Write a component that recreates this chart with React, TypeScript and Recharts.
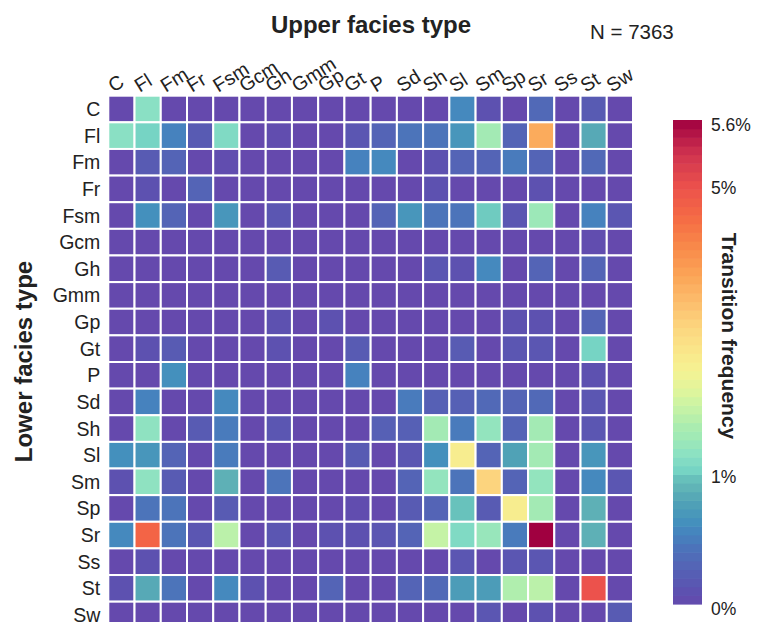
import React from 'react';
import { ScatterChart, Scatter, XAxis, YAxis } from 'recharts';

// facies codes, used for both axes (upper = columns, lower = rows)
const facies = ['C', 'Fl', 'Fm', 'Fr', 'Fsm', 'Gcm', 'Gh', 'Gmm', 'Gp', 'Gt', 'P', 'Sd', 'Sh', 'Sl', 'Sm', 'Sp', 'Sr', 'Ss', 'St', 'Sw'];

// transition frequency (%) from lower facies (row) to upper facies (column)
const fromC = [0, 1.3, 0, 0, 0, 0, 0, 0, 0, 0, 0, 0, 0, 0.6, 0.1, 0, 0.35, 0, 0.2, 0];
const fromFl = [1.3, 1.1, 0.55, 0.2, 1.2, 0, 0.05, 0, 0, 0.15, 0.3, 0.45, 0.45, 0.7, 1.6, 0.3, 3.7, 0, 0.85, 0];
const fromFm = [0, 0.2, 0.3, 0, 0.05, 0, 0, 0, 0, 0.55, 0.6, 0, 0.1, 0.3, 0.3, 0.5, 0.3, 0, 0.35, 0];
const fromFr = [0, 0.1, 0, 0.3, 0, 0, 0, 0, 0, 0, 0, 0, 0.1, 0, 0, 0, 0.1, 0, 0, 0];
const fromFsm = [0, 0.65, 0.3, 0, 0.7, 0, 0.15, 0, 0, 0, 0.3, 0.7, 0.45, 0.45, 1.05, 0.15, 1.5, 0, 0.55, 0.15];
const fromGcm = [0, 0, 0, 0, 0, 0, 0, 0, 0, 0, 0, 0, 0, 0, 0, 0, 0, 0, 0.05, 0];
const fromGh = [0, 0, 0, 0, 0, 0, 0.2, 0, 0, 0, 0, 0, 0.15, 0.1, 0.6, 0, 0.3, 0, 0.3, 0];
const fromGmm = [0, 0, 0, 0, 0, 0, 0, 0, 0, 0, 0, 0, 0, 0, 0, 0, 0, 0, 0, 0];
const fromGp = [0, 0, 0, 0, 0, 0, 0.1, 0, 0.1, 0, 0, 0, 0, 0, 0, 0.1, 0.1, 0, 0.3, 0];
const fromGt = [0, 0.1, 0.2, 0, 0, 0, 0.1, 0, 0, 0.2, 0, 0, 0, 0.2, 0, 0.15, 0.15, 0, 1.1, 0];
const fromP = [0, 0, 0.65, 0, 0, 0, 0, 0, 0, 0.55, 0, 0, 0, 0, 0, 0, 0, 0, 0.1, 0];
const fromSd = [0, 0.55, 0, 0, 0.6, 0, 0, 0, 0, 0, 0, 0.5, 0.25, 0.25, 0.35, 0.3, 0.35, 0, 0.15, 0];
const fromSh = [0, 1.35, 0, 0.2, 0.5, 0, 0.15, 0, 0, 0, 0.25, 0.25, 1.6, 0.5, 1.4, 0.3, 1.6, 0, 0.15, 0];
const fromSl = [0.65, 0.7, 0.3, 0, 0.5, 0, 0, 0, 0, 0.2, 0, 0.15, 0.65, 2.6, 0.3, 0.8, 1.6, 0, 0.7, 0];
const fromSm = [0.1, 1.35, 0.2, 0, 0.9, 0, 0.45, 0, 0, 0, 0, 0.3, 1.4, 0.45, 3.1, 0.3, 1.4, 0, 0.6, 0.15];
const fromSp = [0, 0.45, 0.45, 0, 0.2, 0, 0, 0, 0, 0.05, 0, 0.2, 0.3, 1.0, 0.2, 2.6, 1.6, 0, 0.9, 0];
const fromSr = [0.6, 4.7, 0.45, 0.15, 1.85, 0, 0.15, 0, 0.1, 0.1, 0.15, 0.3, 1.95, 1.2, 1.45, 0.5, 5.6, 0, 0.9, 0];
const fromSs = [0, 0.1, 0, 0, 0, 0, 0, 0, 0, 0, 0, 0, 0, 0.15, 0, 0.15, 0.15, 0, 0, 0];
const fromSt = [0.1, 0.85, 0.45, 0, 0.6, 0.1, 0, 0, 0.3, 0, 0, 0.3, 0.35, 0.75, 0.75, 1.75, 1.85, 0, 5.0, 0];
const fromSw = [0, 0, 0, 0, 0, 0, 0, 0, 0, 0, 0, 0, 0, 0, 0.15, 0, 0.1, 0, 0, 0.2];

const matrix = [fromC, fromFl, fromFm, fromFr, fromFsm, fromGcm, fromGh, fromGmm, fromGp, fromGt,
  fromP, fromSd, fromSh, fromSl, fromSm, fromSp, fromSr, fromSs, fromSt, fromSw];

// colorbar ticks
const cbarTicks = [0, 1, 5, 5.6];
const cbarLabels = ['0%', '1%', '5%', '5.6%'];
// where the ticks sit along the colorbar (non-linear norm)
const cbarFractions = [0, 0.262, 0.86, 1];

// value (%) -> colour stops, spectral-ish
const colorStops: [number, string][] = [
  [0, '#6549ad'], [0.1, '#5d51b0'], [0.2, '#585bb3'], [0.3, '#5464b6'], [0.45, '#4c74ba'],
  [0.55, '#4682be'], [0.65, '#4490bd'], [0.8, '#50a2b6'], [0.9, '#5eb0b6'], [1.0, '#68c2bc'],
  [1.1, '#76d4c4'], [1.3, '#8ae0c4'], [1.5, '#9ce8b8'], [1.7, '#aaecb0'], [1.9, '#c0f2a8'],
  [2.2, '#e0f59c'], [2.5, '#f6f292'], [2.8, '#fae488'], [3.1, '#fcd47e'], [3.5, '#fcb868'],
  [3.8, '#fba456'], [4.2, '#f8884a'], [4.6, '#f56a44'], [5.0, '#ec524c'], [5.3, '#d03450'],
  [5.6, '#a00040'],
];

const hexToRgb = (h: string) => [1, 3, 5].map((i) => parseInt(h.slice(i, i + 2), 16));

const colorOf = (v: number) => {
  if (v <= colorStops[0][0]) return colorStops[0][1];
  for (let i = 1; i < colorStops.length; i++) {
    const [v1, c1] = colorStops[i];
    if (v <= v1) {
      const [v0, c0] = colorStops[i - 1];
      const t = (v - v0) / (v1 - v0);
      const a = hexToRgb(c0), b = hexToRgb(c1);
      const m = a.map((x, k) => Math.round(x + (b[k] - x) * t));
      return `rgb(${m[0]},${m[1]},${m[2]})`;
    }
  }
  return colorStops[colorStops.length - 1][1];
};

// fraction along colorbar -> value
const fracToValue = (f: number) => {
  for (let i = 1; i < cbarFractions.length; i++) {
    if (f <= cbarFractions[i]) {
      const t = (f - cbarFractions[i - 1]) / (cbarFractions[i] - cbarFractions[i - 1]);
      return cbarTicks[i - 1] + t * (cbarTicks[i] - cbarTicks[i - 1]);
    }
  }
  return cbarTicks[cbarTicks.length - 1];
};

const W = 759;
const H = 630;
const PLOT = { left: 108.3, top: 95.7, right: 633, bottom: 628.3 };
const CELL_W = (PLOT.right - PLOT.left) / facies.length;
const CELL_H = (PLOT.bottom - PLOT.top) / facies.length;
const AXIS_PAD = 10;

const FONT = '"Liberation Sans", Arial, Helvetica, sans-serif';
const TEXT = '#222';

const CBAR = { x: 673, top: 120, bottom: 604, width: 29 };

const cells = matrix.flatMap((row, i) => row.map((v, j) => ({ x: j + 0.5, y: i + 0.5, v })));
const centers = facies.map((_, i) => i + 0.5);

const XTick = (props: any) => {
  const { x, payload } = props;
  const label = facies[Math.round(payload.value - 0.5)];
  const tx = x - 8;
  const ty = PLOT.top - 3;
  return (
    <text x={tx} y={ty} transform={`rotate(-32 ${tx} ${ty})`} fontSize={19.5} fill={TEXT} fontFamily={FONT}>
      {label}
    </text>
  );
};

const YTick = (props: any) => {
  const { y, payload } = props;
  const label = facies[Math.round(payload.value - 0.5)];
  return (
    <text x={PLOT.left - 8} y={y} dy="0.36em" textAnchor="end" fontSize={19.5} fill={TEXT} fontFamily={FONT}>
      {label}
    </text>
  );
};

const renderCell = (props: any) => {
  const { cx, cy, payload } = props;
  return (
    <rect
      x={cx - CELL_W / 2}
      y={cy - CELL_H / 2}
      width={CELL_W}
      height={CELL_H}
      fill={colorOf(payload.v)}
      stroke="#fff"
      strokeWidth={2}
    />
  );
};

const BANDS = 56;

export default function App() {
  const barH = CBAR.bottom - CBAR.top;
  const bands = Array.from({ length: BANDS }, (_, k) => {
    const f = (k + 0.5) / BANDS;
    return { k, color: colorOf(fracToValue(f)) };
  });

  return (
    <div style={{ position: 'absolute', left: 0, top: 0, width: W, height: 622, overflow: 'hidden', background: '#fff' }}>
      <ScatterChart
        width={W}
        height={H}
        margin={{ top: PLOT.top - AXIS_PAD, left: PLOT.left - AXIS_PAD, right: W - PLOT.right, bottom: H - PLOT.bottom }}
      >
        <XAxis
          type="number"
          dataKey="x"
          orientation="top"
          height={AXIS_PAD}
          domain={[0, facies.length]}
          ticks={centers}
          interval={0}
          axisLine={false}
          tickLine={false}
          tick={(p: any) => <XTick {...p} />}
        />
        <YAxis
          type="number"
          dataKey="y"
          width={AXIS_PAD}
          domain={[0, facies.length]}
          reversed
          ticks={centers}
          interval={0}
          axisLine={false}
          tickLine={false}
          tick={(p: any) => <YTick {...p} />}
        />
        <Scatter data={cells} shape={renderCell} isAnimationActive={false} />
      </ScatterChart>

      <svg width={W} height={622} style={{ position: 'absolute', left: 0, top: 0, pointerEvents: 'none' }}>
        <text x={371} y={33} textAnchor="middle" fontSize={24} fontWeight="bold" fill={TEXT} fontFamily={FONT}>
          Upper facies type
        </text>
        <text x={590} y={39} fontSize={20.5} fill={TEXT} fontFamily={FONT}>N = 7363</text>
        <text
          transform="translate(31.5 361.5) rotate(-90)"
          textAnchor="middle"
          fontSize={24}
          fontWeight="bold"
          fill={TEXT}
          fontFamily={FONT}
        >
          Lower facies type
        </text>

        {bands.map((b) => (
          <rect
            key={b.k}
            x={CBAR.x}
            y={CBAR.bottom - ((b.k + 1) / BANDS) * barH}
            width={CBAR.width}
            height={barH / BANDS + 0.6}
            fill={b.color}
          />
        ))}
        {cbarTicks.map((t, i) => (
          <text
            key={t}
            x={CBAR.x + CBAR.width + 9}
            y={CBAR.bottom - cbarFractions[i] * barH + (i === 0 ? 5 : i === cbarTicks.length - 1 ? 5 : 0)}
            dy="0.36em"
            fontSize={17.5}
            fill={TEXT}
            fontFamily={FONT}
          >
            {cbarLabels[i]}
          </text>
        ))}
        <text
          transform="translate(722 336) rotate(90)"
          textAnchor="middle"
          fontSize={21}
          fontWeight="bold"
          fill={TEXT}
          fontFamily={FONT}
        >
          Transition frequency
        </text>
      </svg>
    </div>
  );
}
